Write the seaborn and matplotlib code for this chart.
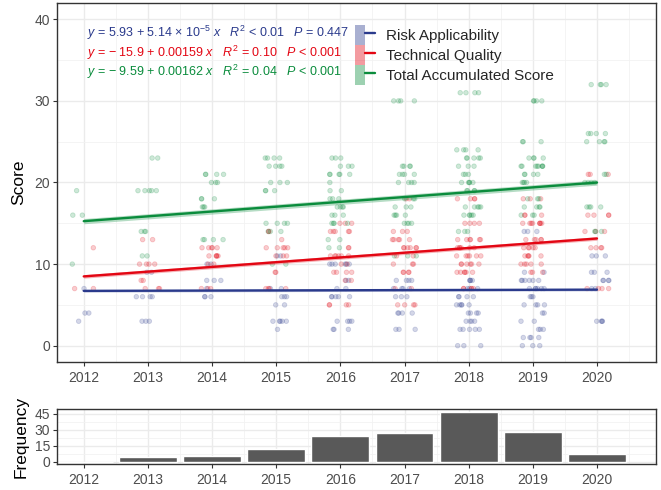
import numpy as np
import pandas as pd
import matplotlib
matplotlib.use("Agg")
import matplotlib.pyplot as plt
from matplotlib.patches import Patch
from matplotlib.lines import Line2D
from matplotlib.legend_handler import HandlerTuple
from matplotlib.ticker import MultipleLocator, FuncFormatter
import seaborn as sns

# ---------------- data ----------------
years = [2012, 2013, 2014, 2015, 2016, 2017, 2018, 2019, 2020]
frequency = [0, 4, 5, 12, 24, 27, 47, 28, 7]

series_names = ["Risk Applicability", "Technical Quality", "Total Accumulated Score"]

# score: number of observations, per year
risk_pts = {
    2012: {4: 2, 3: 1, 7: 1},
    2013: {9: 2, 6: 4, 3: 3},
    2014: {10: 2, 8: 3, 7: 1, 6: 3},
    2015: {11: 2, 7: 2, 6: 3, 5: 2, 3: 5, 2: 1},
    2016: {10: 6, 8: 2, 7: 2, 6: 5, 3: 4, 2: 3},
    2017: {8: 4, 7: 4, 6: 3, 4: 4, 2: 3},
    2018: {8: 4, 7: 3, 6: 4, 5: 5, 4: 4, 3: 4, 2: 5, 0: 3},
    2019: {14: 3, 9: 2, 8: 6, 7: 6, 6: 3, 5: 4, 4: 2, 3: 2, 2: 3, 1: 4, 0: 3},
    2020: {11: 3, 9: 3, 8: 4, 7: 2, 3: 4},
}
tech_pts = {
    2012: {12: 1, 7: 2},
    2013: {13: 2, 10: 4, 8: 2, 7: 3},
    2014: {12: 5, 11: 5, 10: 2, 7: 3},
    2015: {14: 2, 13: 1, 12: 5, 11: 3, 9: 2, 7: 4},
    2016: {15: 3, 14: 5, 12: 2, 11: 6, 10: 2, 9: 4, 8: 2, 5: 4},
    2017: {18: 2, 14: 3, 13: 5, 12: 6, 11: 2, 10: 3, 9: 4, 7: 2, 5: 4},
    2018: {18: 4, 15: 4, 13: 6, 12: 6, 11: 6, 10: 6, 9: 6, 7: 5},
    2019: {18: 3, 16: 3, 15: 8, 13: 5, 12: 5, 11: 5, 10: 5, 9: 3},
    2020: {21: 3, 16: 4, 14: 3, 12: 4, 7: 4},
}
total_pts = {
    2012: {19: 1, 16: 2, 10: 1},
    2013: {23: 2, 19: 5, 14: 3, 11: 2},
    2014: {21: 4, 20: 3, 18: 3, 17: 3, 13: 4},
    2015: {23: 4, 22: 4, 20: 3, 19: 3, 15: 4, 14: 3, 10: 2},
    2016: {23: 3, 22: 3, 21: 5, 20: 1, 19: 2, 18: 3, 17: 4, 16: 3, 15: 4, 13: 2, 12: 2},
    2017: {30: 4, 22: 4, 21: 4, 20: 4, 18: 3, 17: 3, 16: 4, 15: 4, 11: 3},
    2018: {31: 4, 24: 4, 23: 5, 22: 3, 21: 3, 20: 5, 19: 4, 17: 5, 16: 5, 14: 3},
    2019: {30: 4, 25: 3, 23: 4, 22: 8, 21: 4, 20: 4, 18: 3, 17: 4, 16: 3},
    2020: {32: 4, 26: 4, 25: 4, 21: 2, 20: 4, 17: 4, 14: 3},
}

# regression fits: y = a + b * x, x in days since 1970-01-01
fit_intercept = [5.93, -15.9, -9.59]
fit_slope = [5.14e-5, 0.00159, 0.00162]
fit_ci_half = [0.15, 0.22, 0.32]
fit_labels = [
    r"$y$ = 5.93 + 5.14 $\times$ 10$^{-5}$ $x$   $R^2$ < 0.01   $P$ = 0.447",
    r"$y$ = $-$ 15.9 + 0.00159 $x$   $R^2$ = 0.10   $P$ < 0.001",
    r"$y$ = $-$ 9.59 + 0.00162 $x$   $R^2$ = 0.04   $P$ < 0.001",
]

colors = ["#2A3A8C", "#E30613", "#0A8C3C"]

# ---------------- build table ----------------
rows = []
for name, pts in zip(series_names, [risk_pts, tech_pts, total_pts]):
    for yr, d in pts.items():
        for sc, n in d.items():
            for _ in range(n):
                rows.append((yr, sc, name))
df = pd.DataFrame(rows, columns=["year", "score", "series"])
freq_df = pd.DataFrame({"year": years, "freq": frequency})

# ---------------- style ----------------
sns.set_theme(style="white")
plt.rcParams["font.family"] = ["Liberation Sans", "DejaVu Sans"]
plt.rcParams["mathtext.fontset"] = "custom"
plt.rcParams["mathtext.rm"] = "Liberation Sans"
plt.rcParams["mathtext.it"] = "Liberation Sans:italic"
plt.rcParams["mathtext.bf"] = "Liberation Sans:bold"

W, H = 661, 490
fig = plt.figure(figsize=(W / 100, H / 100), dpi=100)
ax = fig.add_axes([57 / W, (H - 362) / H, 599 / W, 359 / H])
axb = fig.add_axes([57 / W, (H - 464) / H, 599 / W, 55 / H])

np.random.seed(3)
sns.stripplot(data=df, x="year", y="score", hue="series", hue_order=series_names,
              palette=colors, native_scale=True, orient="x", jitter=0.19,
              alpha=0.2, size=3.3, linewidth=0.6, edgecolor="face",
              legend=False, ax=ax, zorder=2)

yr_line = np.array([min(years), max(years)], dtype=float)
days = (yr_line - 1970) * 365.25
for a, b, hw, c in zip(fit_intercept, fit_slope, fit_ci_half, colors):
    yy = a + b * days
    ax.fill_between(yr_line, yy - hw, yy + hw, color=c, alpha=0.3, lw=0, zorder=3)
    sns.lineplot(x=yr_line, y=yy, color=c, lw=1.7, ax=ax, zorder=4)

for i, (lab, c) in enumerate(zip(fit_labels, colors)):
    ax.text(2012.05, 38.3 - 2.38 * i, lab, color=c, fontsize=9.0, ha="left",
            va="center", zorder=5)

handles = [(Patch(facecolor=c, alpha=0.4, lw=0), Line2D([], [], color=c, lw=1.7))
           for c in colors]
ax.legend(handles, series_names, handler_map={tuple: HandlerTuple(ndivide=None, pad=0)},
          loc="upper left", bbox_to_anchor=((355 - 57) / 599, (362 - 25) / 359),
          frameon=False, fontsize=11, handlelength=1.31, handleheight=1.64,
          labelspacing=0.0, handletextpad=0.75, borderaxespad=0, borderpad=0)

sns.barplot(data=freq_df, x="year", y="freq", native_scale=True, width=0.9,
            color="#595959", saturation=1, ax=axb, zorder=2)

for a_ in (ax, axb):
    a_.set_xlim(2011.583, 2020.92)
    a_.xaxis.set_major_locator(MultipleLocator(1))
    a_.xaxis.set_minor_locator(MultipleLocator(0.5))
    a_.grid(which="major", color="#EBEBEB", lw=1.0, zorder=0)
    a_.grid(which="minor", color="#F2F2F2", lw=0.6, zorder=0)
    a_.set_axisbelow(True)
    for s in a_.spines.values():
        s.set_color("#333333")
        s.set_linewidth(1.0)
        s.set_visible(True)
    a_.tick_params(which="major", length=3, width=0.8, color="#333333",
                   labelcolor="#4D4D4D", labelsize=10, pad=2, left=True, bottom=True)
    a_.tick_params(axis="x", which="major", pad=3.5)
    a_.tick_params(which="minor", length=0)
    a_.set_xlabel("")
    a_.xaxis.set_major_formatter(FuncFormatter(lambda v, p: f"{int(round(v))}"))

ax.set_ylim(-2, 42)
ax.yaxis.set_major_locator(MultipleLocator(10))
ax.yaxis.set_minor_locator(MultipleLocator(5))
ax.set_ylabel("Score", fontsize=12.5, color="black", labelpad=6)

axb.set_ylim(-2.35, 49.35)
axb.set_yticks([0, 15, 30, 45])
axb.yaxis.set_minor_locator(MultipleLocator(7.5))
axb.set_ylabel("Frequency", fontsize=12.5, color="black", labelpad=4)

fig.savefig("out.png", dpi=100)
